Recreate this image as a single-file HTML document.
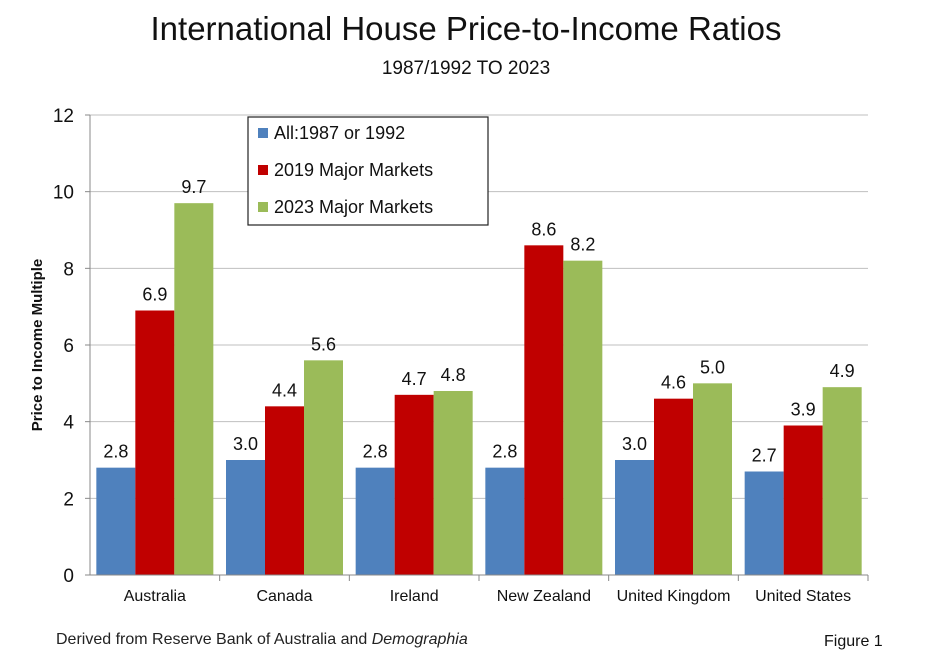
<!DOCTYPE html>
<html><head><meta charset="utf-8">
<style>
body{margin:0;background:#fff;}
svg text{font-family:"Liberation Sans",sans-serif;}
</style></head>
<body>
<svg id="chart" width="932" height="661" viewBox="0 0 932 661">
<text x="466" y="40" text-anchor="middle" font-size="33" fill="#111">International House Price-to-Income Ratios</text>
<text x="466" y="74" text-anchor="middle" font-size="19" fill="#111">1987/1992 TO 2023</text>
<g id="grid"></g>
<g id="bars"></g>
<g id="axes"></g>
<text transform="translate(42,345) rotate(-90)" text-anchor="middle" font-size="15" font-weight="bold" fill="#111">Price to Income Multiple</text>
<g>
<rect x="248" y="117" width="240" height="108" fill="#fff" stroke="#222" stroke-width="1.2"/>
<rect x="258" y="128" width="10" height="10" fill="#4F81BD"/>
<text x="274" y="139" font-size="18" fill="#111">All:1987 or 1992</text>
<rect x="258" y="165" width="10" height="10" fill="#C00000"/>
<text x="274" y="176" font-size="18" fill="#111">2019 Major Markets</text>
<rect x="258" y="202" width="10" height="10" fill="#9BBB59"/>
<text x="274" y="213" font-size="18" fill="#111">2023 Major Markets</text>
</g>
<text x="56" y="644" font-size="16" fill="#222">Derived from Reserve Bank of Australia and <tspan font-style="italic">Demographia</tspan></text>
<text x="824" y="646" font-size="16" fill="#111">Figure 1</text>
</svg>
<script>
const categories=["Australia","Canada","Ireland","New Zealand","United Kingdom","United States"];
const series1987=[2.8,3.0,2.8,2.8,3.0,2.7];
const series2019=[6.9,4.4,4.7,8.6,4.6,3.9];
const series2023=[9.7,5.6,4.8,8.2,5.0,4.9];
const yTicks=[0,2,4,6,8,10,12];
const seriesNames=["1987","2019","2023"];
const colors=["#4F81BD","#C00000","#9BBB59"];
const NS="http://www.w3.org/2000/svg";
const X0=90,X1=868,Y0=575,Y1=115,YMAX=12;
const y=v=>Y0-(v/YMAX)*(Y0-Y1);
const gw=(X1-X0)/categories.length;
const gx=i=>X0+i*gw;
function mk(t,a,p){const e=document.createElementNS(NS,t);for(const k in a)e.setAttribute(k,a[k]);p.appendChild(e);return e;}
const grid=document.getElementById('grid'),bars=document.getElementById('bars'),axes=document.getElementById('axes');
yTicks.forEach(t=>{
 if(t>0){const g=mk('line',{x1:X0,x2:X1,y1:y(t),y2:y(t),stroke:'#bfbfbf','stroke-width':1},grid);
 
 }
 const tx=mk('text',{x:X0-16,y:y(t)+7,'text-anchor':'end','font-size':19,fill:'#111'},axes);tx.textContent=t;
 
 
 mk('line',{x1:X0-5,x2:X0,y1:y(t),y2:y(t),stroke:'#888'},axes);
});
const all=[series1987,series2019,series2023];
const bw=39,pad=(gw-3*bw)/2;
categories.forEach((c,i)=>{
 all.forEach((s,j)=>{
  const x=gx(i)+pad+j*bw,v=s[i];
  const r=mk('rect',{x:x,y:y(v),width:bw,height:Y0-y(v),fill:colors[j]},bars);
  
  
  const l=mk('text',{x:x+bw/2,y:y(v)-10,'text-anchor':'middle','font-size':18,fill:'#111'},bars);
  l.textContent=v.toFixed(1);
  
  
 });
 const ct=mk('text',{x:gx(i)+gw/2,y:Y0+26,'text-anchor':'middle','font-size':16,fill:'#111'},axes);
 ct.textContent=c;
 
 
 mk('line',{x1:gx(i+1),x2:gx(i+1),y1:Y0,y2:Y0+6,stroke:'#888'},axes);
});
mk('line',{x1:X0,x2:X0,y1:Y1,y2:Y0,stroke:'#888'},axes);
mk('line',{x1:X0,x2:X1,y1:Y0,y2:Y0,stroke:'#888'},axes);
</script>
</body></html>
